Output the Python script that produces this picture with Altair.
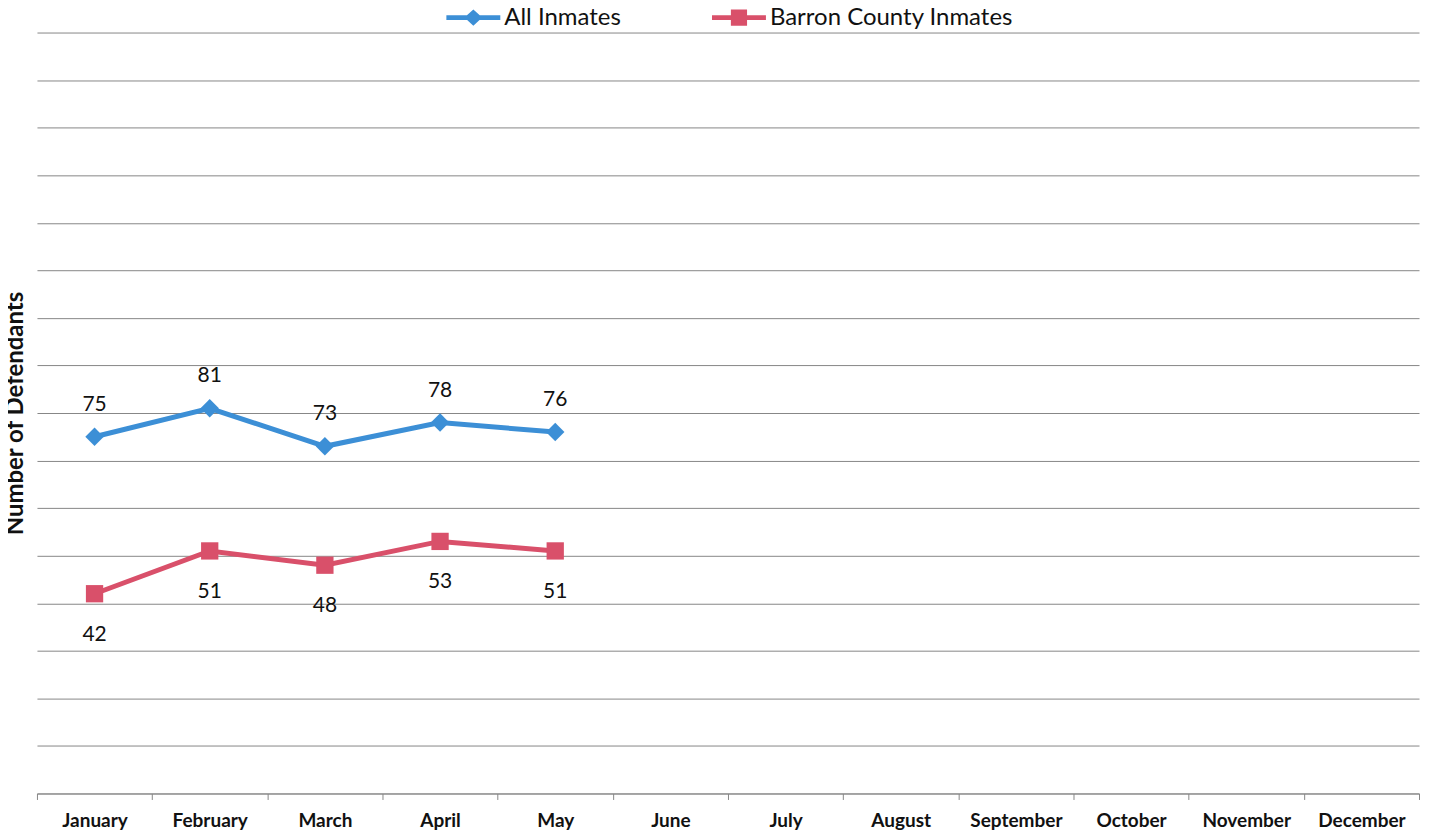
import altair as alt
import pandas as pd

months = ["January", "February", "March", "April", "May", "June", "July",
          "August", "September", "October", "November", "December"]
data_months = ["January", "February", "March", "April", "May"]
all_inmates = [75, 81, 73, 78, 76]
barron_inmates = [42, 51, 48, 53, 51]
series_names = ["All Inmates", "Barron County Inmates"]
series_colors = ["#3C8FD6", "#D9506A"]
y_ticks = list(range(0, 161, 10))

rows = []
for m, v in zip(data_months, all_inmates):
    rows.append({"month": m, "series": series_names[0], "value": v})
for m, v in zip(data_months, barron_inmates):
    rows.append({"month": m, "series": series_names[1], "value": v})
df = pd.DataFrame(rows)

FONT = "Lato"
GRID = "#878787"
TXT = "#111111"

x_enc = alt.X(
    "month:N",
    sort=months,
    bandPosition=0.5,
    scale=alt.Scale(domain=months, type="band", paddingInner=0, paddingOuter=0),
    axis=alt.Axis(
        title=None, labelAngle=0, grid=False, domainColor=GRID, tickColor=GRID,
        tickSize=6, tickBand="extent", labelFont=FONT, labelFontSize=19,
        labelFontWeight="bold", labelColor=TXT, labelPadding=12, labelLimit=0,
    ),
)
y_enc = alt.Y(
    "value:Q",
    scale=alt.Scale(domain=[0, 160], nice=False),
    axis=alt.Axis(
        values=y_ticks, labels=False, ticks=False, domain=False, grid=True,
        gridColor=GRID, gridWidth=1, title="Number of Defendants",
        titleFont=FONT, titleFontSize=24, titleFontWeight="bold",
        titleColor=TXT, titlePadding=9, titleLimit=0,
    ),
)

base = alt.Chart(df)


def series_layers(name, color, shape, size, dy):
    sub = base.transform_filter(alt.datum.series == name)
    line = sub.mark_line(strokeWidth=5, color=color).encode(x=x_enc, y=y_enc)
    pts = sub.mark_point(filled=True, opacity=1, shape=shape, size=size, color=color).encode(
        x=x_enc, y=y_enc)
    lab = sub.mark_text(font=FONT, fontSize=21, color=TXT, dy=dy, baseline="alphabetic",
                        align="center").encode(x=x_enc, y=y_enc, text="value:Q")
    return [line, pts, lab]


layers = series_layers(series_names[0], series_colors[0], "diamond", 340, -26) + \
    series_layers(series_names[1], series_colors[1], "square", 300, 47)

diamond_path = "M-1,-0.09L1,-0.09L1,0.09L-1,0.09Z M-0.33,0L0,-0.3L0.33,0L0,0.3Z"
square_path = "M-1,-0.09L1,-0.09L1,0.09L-1,0.09Z M-0.3,-0.3L0.3,-0.3L0.3,0.3L-0.3,0.3Z"

leg = alt.Legend(
    orient="none", legendX=410, legendY=-15 - 27, direction="horizontal",
    title=None, labelFont=FONT, labelFontSize=24, labelColor=TXT, labelLimit=0,
    symbolSize=2916, symbolStrokeWidth=0, labelOffset=4, columnPadding=91,
    padding=0, symbolOpacity=1,
)

legend_layer = base.transform_filter("datum.value < 0").mark_point(filled=True, opacity=1).encode(
    x=x_enc, y=y_enc,
    color=alt.Color("series:N", scale=alt.Scale(domain=series_names, range=series_colors),
                    legend=leg),
    shape=alt.Shape("series:N",
                    scale=alt.Scale(domain=series_names, range=[diamond_path, square_path]),
                    legend=leg),
)

chart = alt.layer(*layers, legend_layer).properties(
    width=1384, height=762,
    autosize=alt.AutoSizeParams(type="none"),
    padding={"left": 29, "top": 24, "right": 5, "bottom": 38},
).configure_view(stroke=None)

chart.save("out.html", embed_options={"renderer": "svg", "actions": False})
